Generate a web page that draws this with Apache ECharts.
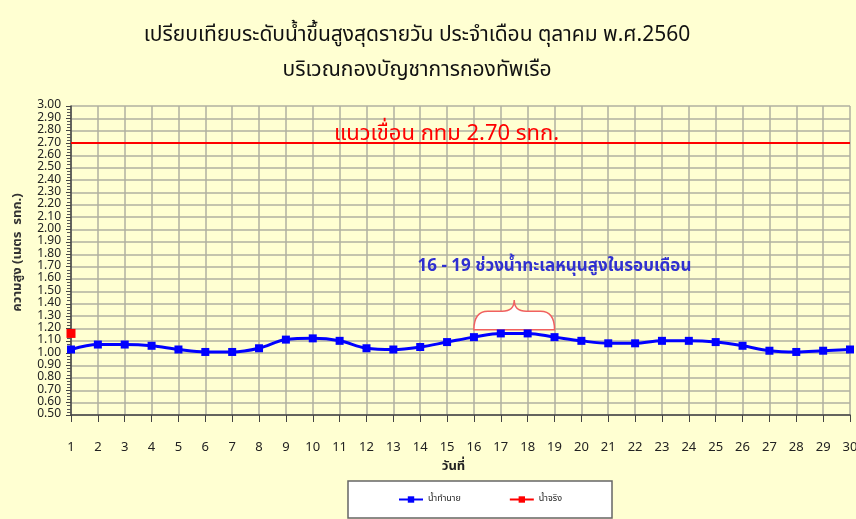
<!DOCTYPE html>
<html lang="th">
<head>
<meta charset="UTF-8">
<title>ระดับน้ำ</title>
<style>
  body{ margin:0; padding:0; background:#FFFFD2; }
  #main{ width:856px; height:519px; }
</style>
</head>
<body>
<div id="main"></div>
<script src="https://cdn.jsdelivr.net/npm/echarts@6/dist/echarts.min.js"></script>
<script>
// วันที่ 1 - 30
var days = [];
for (var d = 1; d <= 30; d++) days.push(String(d));

// น้ำทำนาย (predicted)
var predicted = [1.03, 1.07, 1.07, 1.06, 1.03, 1.01, 1.01, 1.04, 1.11, 1.12,
                 1.10, 1.04, 1.03, 1.05, 1.09, 1.13, 1.16, 1.16, 1.13, 1.10,
                 1.08, 1.08, 1.10, 1.10, 1.09, 1.06, 1.02, 1.01, 1.02, 1.03];
// น้ำจริง (actual) - only day 1 recorded
var actual = [1.16];

var damLevel = 2.70;
// brace over spring tide days 16-19 (category index), base/peak heights
var braceRange = [15, 18];
var braceLevels = [1.19, 1.43];
var noteAt = [17.9, 1.69];

var thFont = '"Noto Sans Thai", "Noto Sans", "DejaVu Sans", sans-serif';

var chart = echarts.init(document.getElementById('main'));

var option = {
  backgroundColor: '#FFFFD2',
  textStyle: { fontFamily: thFont },
  title: {
    text: 'เปรียบเทียบระดับน้ำขึ้นสูงสุดรายวัน ประจำเดือน ตุลาคม พ.ศ.2560\nบริเวณกองบัญชาการกองทัพเรือ',
    left: 412,
    top: 14,
    textAlign: 'center',
    textStyle: { fontSize: 21, fontWeight: 'normal', color: '#111', lineHeight: 35, fontFamily: thFont }
  },
  legend: {
    bottom: 1,
    left: 348,
    data: ['น้ำทำนาย', 'น้ำจริง'],
    backgroundColor: '#fff',
    borderColor: '#666',
    borderWidth: 1.5,
    padding: [14, 50],
    itemGap: 48,
    itemWidth: 24,
    itemHeight: 8,
    textStyle: { fontSize: 9, color: '#222' }
  },
  grid: { left: 71, right: 6, top: 106, bottom: 104, containLabel: false, outerBoundsMode: 'none' },
  xAxis: {
    type: 'category',
    data: days,
    boundaryGap: false,
    name: 'วันที่',
    nameLocation: 'middle',
    nameGap: 46,
    nameTextStyle: { fontSize: 13, fontWeight: 'bold', color: '#222', padding: [0, 14, 0, 0] },
    axisLine: { lineStyle: { color: '#444', width: 1.5 } },
    axisTick: { show: true, length: 7, lineStyle: { color: '#444' } },
    axisLabel: { margin: 27, fontSize: 13, color: '#222', interval: 0 },
    splitLine: { show: true, lineStyle: { color: '#B0B0A0', width: 1.5 } }
  },
  yAxis: {
    type: 'value',
    min: 0.5,
    max: 3.0,
    interval: 0.1,
    name: 'ความสูง (เมตร  รทก.)',
    nameLocation: 'middle',
    nameGap: 46,
    nameTextStyle: { fontSize: 13, fontWeight: 'bold', color: '#333', padding: [0, 0, 0, 16] },
    axisLine: { show: true, lineStyle: { color: '#444', width: 1.5 } },
    axisTick: { show: true, length: 5, inside: false, lineStyle: { color: '#444' } },
    minorTick: { show: true, splitNumber: 4, length: 4, lineStyle: { color: '#555' } },
    axisLabel: {
      fontSize: 12, color: '#222', margin: 10,
      formatter: function (v) { return v.toFixed(2); }
    },
    splitLine: { show: true, lineStyle: { color: '#B0B0A0', width: 1.5 } }
  },
  series: [
    {
      name: 'น้ำทำนาย',
      type: 'line',
      data: predicted,
      smooth: 0.35,
      symbol: 'rect',
      symbolSize: 8,
      itemStyle: { color: '#0000FF' },
      lineStyle: { color: '#0000FF', width: 3 },
      z: 5,
      markLine: {
        silent: true,
        symbol: 'none',
        data: [{ yAxis: damLevel }],
        lineStyle: { color: '#FF0000', width: 2, type: 'solid' },
        label: {
          show: true,
          position: 'middle',
          formatter: 'แนวเขื่อน กทม 2.70 รทก.',
          color: '#FF0000',
          fontSize: 22,
          distance: -3,
          offset: [-14, 0]
        }
      }
    },
    {
      name: 'น้ำจริง',
      type: 'line',
      data: actual,
      symbol: 'rect',
      symbolSize: 9,
      itemStyle: { color: '#FF0000' },
      lineStyle: { color: '#FF0000', width: 3 },
      z: 6
    },
    {
      type: 'custom',
      silent: true,
      data: [[braceRange[0], braceRange[1], braceLevels[0], braceLevels[1], noteAt[0], noteAt[1]]],
      encode: { x: [0, 1], y: [2, 3] },
      z: 4,
      renderItem: function (params, api) {
        var a = api.coord([api.value(0), api.value(2)]);
        var b = api.coord([api.value(1), api.value(2)]);
        var top = api.coord([api.value(0), api.value(3)])[1];
        var n = api.coord([api.value(4), api.value(5)]);
        var x1 = a[0], x2 = b[0], y0 = a[1];
        var mx = (x1 + x2) / 2;
        var ym = y0 - (y0 - top) * 0.62;
        var path = 'M' + x1 + ',' + y0 +
          ' Q' + x1 + ',' + ym + ' ' + (x1 + 14) + ',' + ym +
          ' L' + (mx - 12) + ',' + ym +
          ' Q' + mx + ',' + ym + ' ' + mx + ',' + top +
          ' Q' + mx + ',' + ym + ' ' + (mx + 12) + ',' + ym +
          ' L' + (x2 - 14) + ',' + ym +
          ' Q' + x2 + ',' + ym + ' ' + x2 + ',' + y0 + ' Z';
        return {
          type: 'group',
          children: [
            {
              type: 'path',
              shape: { pathData: path },
              style: { fill: '#FFFFFF', stroke: '#F06060', lineWidth: 1.5 }
            },
            {
              type: 'text',
              x: n[0], y: n[1],
              style: {
                text: '16 - 19 ช่วงน้ำทะเลหนุนสูงในรอบเดือน',
                fill: '#3030D0',
                fontSize: 17,
                fontWeight: 'bold',
                fontFamily: thFont,
                align: 'center',
                verticalAlign: 'middle'
              }
            }
          ]
        };
      }
    }
  ]
};

chart.setOption(option);
</script>
</body>
</html>
